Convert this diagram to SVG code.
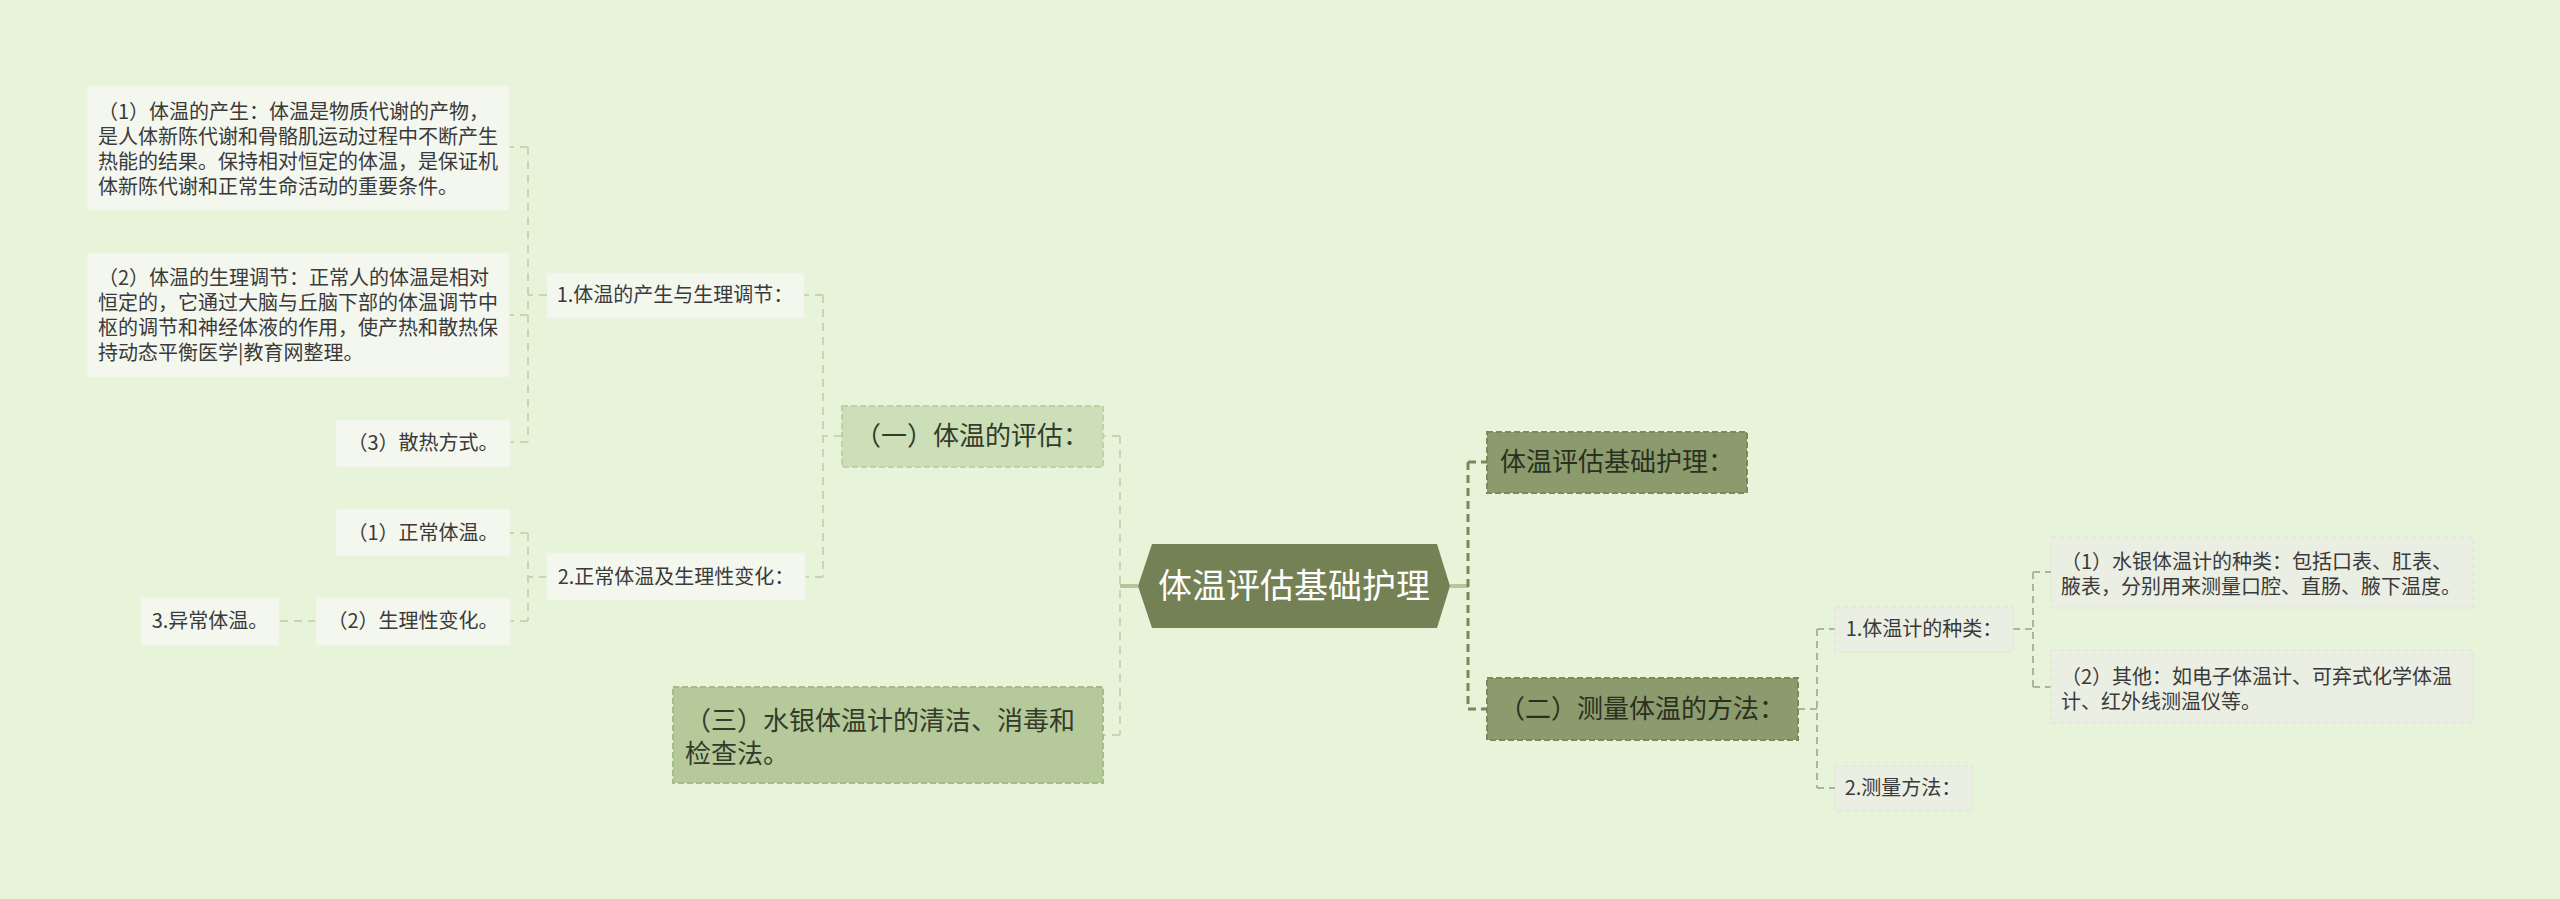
<svg xmlns="http://www.w3.org/2000/svg" width="2560" height="899" viewBox="0 0 2560 899">
<style>
text{font-family:"Noto Sans CJK SC","Noto Sans",sans-serif;}
.bg{fill:#e7f4da;}
.leaf{fill:#f4f7ee;stroke:#eef3e6;stroke-width:1.5;stroke-dasharray:5 3;}
.leafg{fill:#ebeee2;stroke:#e4e8da;stroke-width:1.5;stroke-dasharray:5 3;}
.l1a{fill:#cddfb8;stroke:#bed2a6;stroke-width:2;stroke-dasharray:6 3;}
.l1b{fill:#b5c99a;stroke:#a6bb8a;stroke-width:2;stroke-dasharray:6 3;}
.l1r{fill:#8c9b6d;stroke:#7b8a5d;stroke-width:2;stroke-dasharray:6 3;}
.t20{font-size:20px;fill:#3a3a3a;}
.t26{font-size:26px;fill:#333b2a;}
.t26r{font-size:26px;fill:#2a3020;}
.mid{text-anchor:middle;}
.cl{fill:none;stroke:#c6d6b0;stroke-width:2;stroke-dasharray:8 6;}
.clsolid{fill:none;stroke:#b5c69a;stroke-width:4;}
.cr{fill:none;stroke:#78885a;stroke-width:3;stroke-dasharray:8 5;}
.cr2{fill:none;stroke:#adb39c;stroke-width:2;stroke-dasharray:7 5;}
</style>
<rect class="bg" x="0" y="0" width="2560" height="899"/>
<g id="connectors">
<path class="clsolid" d="M1138 586 H1120"/>
<path class="cl" d="M1120 436 V735 M1120 436 H1103 M1120 735 H1103"/>
<path class="cl" d="M842 436 H823 M823 295 V577 M823 295 H804 M823 577 H805"/>
<path class="cl" d="M547 295 H528 M528 147 V442 M528 147 H509 M528 315 H509 M528 442 H510"/>
<path class="cl" d="M547 577 H528 M528 533 V621 M528 533 H510 M528 621 H510"/>
<path class="cl" d="M316 621 H279"/>
<path class="clsolid" d="M1450 586 H1468"/>
<path class="cr" d="M1468 462 V709 M1468 462 H1487 M1468 709 H1487"/>
<path class="cr2" d="M1798 709 H1817 M1817 629 V788 M1817 629 H1835 M1817 788 H1835"/>
<path class="cr2" d="M2013 629 H2033 M2033 572 V687 M2033 572 H2051 M2033 687 H2051"/>
</g>
<g id="root">
<polygon points="1138,586 1152,544 1437,544 1450,586 1437,628 1152,628" fill="#738154"/>
<text x="1294" y="598" class="mid" font-size="34" fill="#ffffff">体温评估基础护理</text>
</g>
<g id="n-pinggu">
<rect class="l1a" x="842" y="406" width="261" height="61"/>
<text x="972" y="445" class="t26 mid">（一）体温的评估：</text>
</g>
<g id="n-shuiyin">
<rect class="l1b" x="673" y="687" width="430" height="96"/>
<text x="685" y="730" class="t26">（三）水银体温计的清洁、消毒和</text>
<text x="685" y="763" class="t26">检查法。</text>
</g>
<g id="n-chansheng">
<rect class="leaf" x="547" y="273" width="257" height="45"/>
<text x="675" y="302" class="t20 mid">1.体温的产生与生理调节：</text>
</g>
<g id="n-zhengchang">
<rect class="leaf" x="547" y="553" width="258" height="47"/>
<text x="676" y="584" class="t20 mid">2.正常体温及生理性变化：</text>
</g>
<g id="n-c1">
<rect class="leaf" x="87" y="86" width="422" height="124"/>
<text x="98" y="119" class="t20">（1）体温的产生：体温是物质代谢的产物，</text>
<text x="98" y="144" class="t20">是人体新陈代谢和骨骼肌运动过程中不断产生</text>
<text x="98" y="169" class="t20">热能的结果。保持相对恒定的体温，是保证机</text>
<text x="98" y="194" class="t20">体新陈代谢和正常生命活动的重要条件。</text>
</g>
<g id="n-c2">
<rect class="leaf" x="87" y="253" width="422" height="124"/>
<text x="98" y="285" class="t20">（2）体温的生理调节：正常人的体温是相对</text>
<text x="98" y="310" class="t20">恒定的，它通过大脑与丘脑下部的体温调节中</text>
<text x="98" y="335" class="t20">枢的调节和神经体液的作用，使产热和散热保</text>
<text x="98" y="360" class="t20">持动态平衡医学|教育网整理。</text>
</g>
<g id="n-c3">
<rect class="leaf" x="336" y="420" width="174" height="47"/>
<text x="423" y="450" class="t20 mid">（3）散热方式。</text>
</g>
<g id="n-z1">
<rect class="leaf" x="336" y="509" width="174" height="47"/>
<text x="423" y="540" class="t20 mid">（1）正常体温。</text>
</g>
<g id="n-z2">
<rect class="leaf" x="316" y="598" width="194" height="47"/>
<text x="413" y="628" class="t20 mid">（2）生理性变化。</text>
</g>
<g id="n-yichang">
<rect class="leaf" x="141" y="598" width="138" height="47"/>
<text x="210" y="628" class="t20 mid">3.异常体温。</text>
</g>
<g id="n-jichu">
<rect class="l1r" x="1487" y="432" width="260" height="61"/>
<text x="1617" y="471" class="t26r mid">体温评估基础护理：</text>
</g>
<g id="n-fangfa">
<rect class="l1r" x="1487" y="678" width="311" height="62"/>
<text x="1642" y="718" class="t26r mid">（二）测量体温的方法：</text>
</g>
<g id="n-zhonglei">
<rect class="leafg" x="1835" y="607" width="178" height="45"/>
<text x="1924" y="636" class="t20 mid">1.体温计的种类：</text>
</g>
<g id="n-celiang">
<rect class="leafg" x="1835" y="766" width="137" height="45"/>
<text x="1903" y="795" class="t20 mid">2.测量方法：</text>
</g>
<g id="n-r1">
<rect class="leafg" x="2051" y="537" width="422" height="71"/>
<text x="2061" y="569" class="t20">（1）水银体温计的种类：包括口表、肛表、</text>
<text x="2061" y="594" class="t20">腋表，分别用来测量口腔、直肠、腋下温度。</text>
</g>
<g id="n-r2">
<rect class="leafg" x="2051" y="650" width="422" height="73"/>
<text x="2061" y="684" class="t20">（2）其他：如电子体温计、可弃式化学体温</text>
<text x="2061" y="709" class="t20">计、红外线测温仪等。</text>
</g>
</svg>
